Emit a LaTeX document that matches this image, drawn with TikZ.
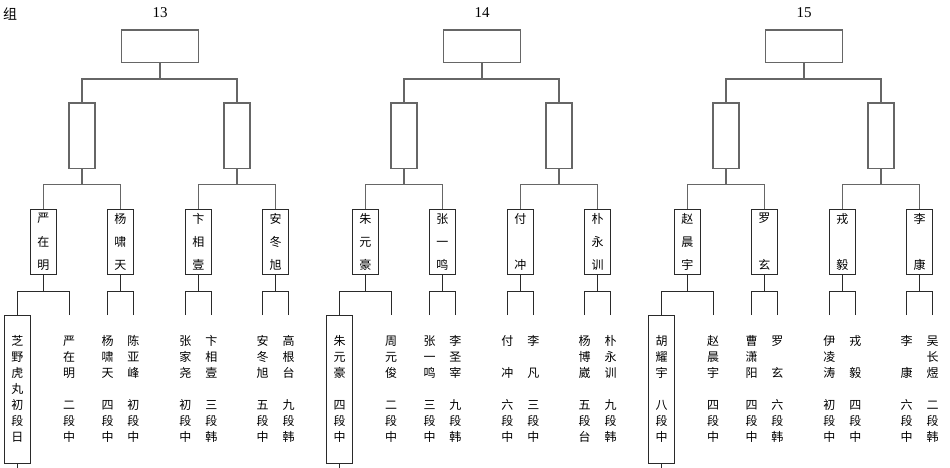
\documentclass[tikz,border=0pt]{standalone}
\usepackage{fontspec}
\setmainfont{Liberation Serif}
\newfontfamily\cjk{Noto Sans CJK SC}
\usetikzlibrary{calc}
\definecolor{frame}{HTML}{666666}
\definecolor{ink}{HTML}{2A2A2A}
\tikzset{cup/.style={draw=frame,line width=1.3pt,minimum width=77.6pt,minimum height=32.7pt,inner sep=0pt},semi/.style={draw=frame,line width=1.3pt,minimum width=26pt,minimum height=65.3pt,inner sep=0pt},namebox/.style={draw=ink,line width=.9pt,minimum width=26pt,minimum height=65.7pt,inner sep=0pt,align=center,font=\cjk\fontsize{12}{23.3}\selectfont},player/.style={minimum width=26pt,minimum height=147.7pt,inner sep=0pt,align=center,anchor=north,font=\cjk\fontsize{12}{16}\selectfont},seed/.style={player,draw=ink,line width=.9pt},wire/.style={draw=frame,line width=1.3pt},leg/.style={draw=ink,line width=.9pt}}
\begin{document}
\begin{tikzpicture}[x=1pt,y=-1pt]
\useasboundingbox (0,0) rectangle (950,468);
\node[font=\cjk\fontsize{14}{14}\selectfont] (grp) at (10,14.5) {组};
% final and semi-final boxes
\foreach \g/\ox/\num in {a/0/13,b/322/14,c/644/15}{
\node[font=\fontsize{15}{15}\selectfont] (t\g) at (\ox+160,13) {\num};
\node[cup] (f\g) at (\ox+160,46.35) {};
\node[semi] (s\g1) at (\ox+82,135.65) {};
\node[semi] (s\g2) at (\ox+237,135.65) {};
\coordinate (e\g) at (\ox+17.5,468);
\foreach \k in {1,2}{\draw[wire] (s\g\k.north) |- ($(f\g.south)!.4!(f\g.south|-s\g\k.north)$) -| (f\g.south);}
}
% quarter-final names
\foreach \g/\k/\p/\xx/\nm in {a/1/1/43.3/严\\在\\明,a/2/1/120.4/杨\\啸\\天,a/3/2/198.3/卞\\相\\壹,a/4/2/275.7/安\\冬\\旭,b/1/1/365.3/朱\\元\\豪,b/2/1/442.4/张\\一\\鸣,b/3/2/520.3/付\\~\\冲,b/4/2/597.7/朴\\永\\训,c/1/1/687.3/赵\\晨\\宇,c/2/1/764.4/罗\\~\\玄,c/3/2/842.3/戎\\~\\毅,c/4/2/919.7/李\\~\\康}{
\node[namebox] (n\g\k) at (\xx,241.85) {\nm};
\draw[wire] (n\g\k.north) |- ($(s\g\p.south)!.4!(s\g\p.south|-n\g\k.north)$) -| (s\g\p.south);
}
% first round players
\foreach \g/\k/\p/\xx/\st/\tx in {a/1/1/17.5/seed/芝\\野\\虎\\丸\\初\\段\\日,a/2/1/69/player/严\\在\\明\\~\\二\\段\\中,a/3/2/107.5/player/杨\\啸\\天\\~\\四\\段\\中,a/4/2/133.3/player/陈\\亚\\峰\\~\\初\\段\\中,a/5/3/185.3/player/张\\家\\尧\\~\\初\\段\\中,a/6/3/211.3/player/卞\\相\\壹\\~\\三\\段\\韩,a/7/4/262.7/player/安\\冬\\旭\\~\\五\\段\\中,a/8/4/288.7/player/高\\根\\台\\~\\九\\段\\韩,
b/1/1/339.5/seed/朱\\元\\豪\\~\\四\\段\\中,b/2/1/391/player/周\\元\\俊\\~\\二\\段\\中,b/3/2/429.5/player/张\\一\\鸣\\~\\三\\段\\中,b/4/2/455.3/player/李\\圣\\宰\\~\\九\\段\\韩,b/5/3/507.3/player/付\\~\\冲\\~\\六\\段\\中,b/6/3/533.3/player/李\\~\\凡\\~\\三\\段\\中,b/7/4/584.7/player/杨\\博\\崴\\~\\五\\段\\台,b/8/4/610.7/player/朴\\永\\训\\~\\九\\段\\韩,
c/1/1/661.5/seed/胡\\耀\\宇\\~\\八\\段\\中,c/2/1/713/player/赵\\晨\\宇\\~\\四\\段\\中,c/3/2/751.5/player/曹\\潇\\阳\\~\\四\\段\\中,c/4/2/777.3/player/罗\\~\\玄\\~\\六\\段\\韩,c/5/3/829.3/player/伊\\凌\\涛\\~\\初\\段\\中,c/6/3/855.3/player/戎\\~\\毅\\~\\四\\段\\中,c/7/4/906.7/player/李\\~\\康\\~\\六\\段\\中,c/8/4/932.7/player/吴\\长\\煜\\~\\二\\段\\韩}{
\node[\st] (p\g\k) at (\xx,315) {\tx};
\draw[leg] (p\g\k.north) |- ($(n\g\p.south)!.4!(n\g\p.south|-p\g\k.north)$) -| (n\g\p.south);
}
\foreach \g in {a,b,c}{\draw[leg] (p\g1.south) -- (e\g);}
\end{tikzpicture}
\end{document}
